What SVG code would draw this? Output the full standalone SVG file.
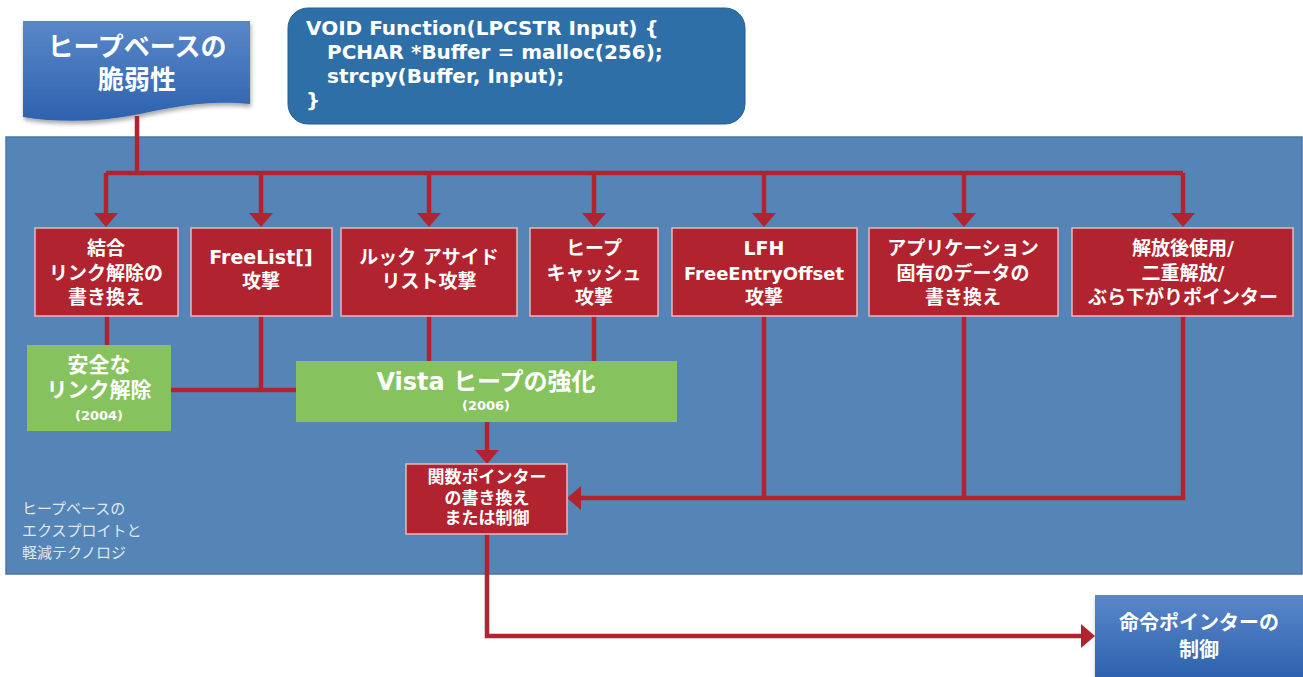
<svg xmlns="http://www.w3.org/2000/svg" width="1303" height="677" viewBox="0 0 1303 677">
<style>
.t{font-family:"DejaVu Sans","Noto Sans CJK JP",sans-serif;font-weight:bold;fill:#ffffff;text-anchor:middle}
.red{fill:#b1232e;stroke:#eab7ba;stroke-width:1.5}
.green{fill:#86c35f}
.r19{font-size:19px}
.g{font-size:21px}
.yr{font-size:13px}
.c{fill:none;stroke:#b1232e;stroke-width:4.5;stroke-linejoin:miter}
.code{font-family:"DejaVu Sans",sans-serif;font-weight:bold;fill:#ffffff;font-size:20px}
.note{font-family:"Noto Sans CJK JP",sans-serif;font-size:15px;fill:#dfe8f2}
</style>
<defs>
<linearGradient id="bg1" x1="0" y1="0" x2="0" y2="1">
<stop offset="0" stop-color="#5a87c9"/>
<stop offset="1" stop-color="#2d62ae"/>
</linearGradient>
<filter id="sh" x="-10%" y="-10%" width="120%" height="130%">
<feDropShadow dx="1" dy="3" stdDeviation="2" flood-color="#000000" flood-opacity="0.35"/>
</filter>
<marker id="ah" markerUnits="userSpaceOnUse" markerWidth="16" markerHeight="26" refX="0" refY="12" orient="auto">
<path d="M0,0 L14,12 L0,24 Z" fill="#b1232e"/>
</marker>
</defs>

<g id="panel">
<rect x="6" y="137" width="1296" height="437" fill="#5585b6" stroke="#4a76a5" stroke-width="1.5"/>
<text class="note" x="22" y="514">ヒープベースの</text>
<text class="note" x="22" y="536">エクスプロイトと</text>
<text class="note" x="22" y="558">軽減テクノロジ</text>
</g>

<g id="title">
<path d="M23,21 H250 V104 C205,100 175,107 140,114 C100,122 60,123 23,117 Z" fill="url(#bg1)" filter="url(#sh)"/>
<text class="t" x="137" y="56" font-size="26">ヒープベースの</text>
<text class="t" x="137" y="89" font-size="26">脆弱性</text>
</g>

<g id="code">
<rect x="288" y="8" width="457" height="116" rx="20" fill="#2e6fa8" stroke="#245f93" stroke-width="1"/>
<text class="code" x="306" y="35">VOID Function(LPCSTR Input) {</text>
<text class="code" x="327" y="59">PCHAR *Buffer = malloc(256);</text>
<text class="code" x="327" y="83">strcpy(Buffer, Input);</text>
<text class="code" x="306" y="107">}</text>
</g>

<g id="connectors">
<path class="c" d="M137,116 V173"/>
<path class="c" d="M106,173 H1183"/>
<path class="c" d="M106,173 V213" marker-end="url(#ah)"/>
<path class="c" d="M261,173 V213" marker-end="url(#ah)"/>
<path class="c" d="M429,173 V213" marker-end="url(#ah)"/>
<path class="c" d="M594,173 V213" marker-end="url(#ah)"/>
<path class="c" d="M764,173 V213" marker-end="url(#ah)"/>
<path class="c" d="M964,173 V213" marker-end="url(#ah)"/>
<path class="c" d="M1183,173 V213" marker-end="url(#ah)"/>
<path class="c" d="M107,316 V345"/>
<path class="c" d="M261,316 V390"/>
<path class="c" d="M171,390 H296"/>
<path class="c" d="M429,316 V361"/>
<path class="c" d="M594,316 V361"/>
<path class="c" d="M487,422 V450" marker-end="url(#ah)"/>
<path class="c" d="M764,316 V498"/>
<path class="c" d="M964,316 V498"/>
<path class="c" d="M1183,316 V498 H581" marker-end="url(#ah)"/>
<path class="c" d="M487,534 V636 H1081" marker-end="url(#ah)"/>
</g>

<g id="n1">
<rect class="red" x="35" y="228" width="143" height="88"/>
<text class="t r19" x="106" y="255">結合</text>
<text class="t r19" x="106" y="280">リンク解除の</text>
<text class="t r19" x="106" y="304">書き換え</text>
</g>
<g id="n2">
<rect class="red" x="191" y="228" width="141" height="88"/>
<text class="t r19" x="261" y="264">FreeList[]</text>
<text class="t r19" x="261" y="288">攻撃</text>
</g>
<g id="n3">
<rect class="red" x="341" y="228" width="176" height="88"/>
<text class="t r19" x="429" y="264">ルック アサイド</text>
<text class="t r19" x="429" y="288">リスト攻撃</text>
</g>
<g id="n4">
<rect class="red" x="530" y="228" width="128" height="88"/>
<text class="t r19" x="594" y="255">ヒープ</text>
<text class="t r19" x="594" y="280">キャッシュ</text>
<text class="t r19" x="594" y="304">攻撃</text>
</g>
<g id="n5">
<rect class="red" x="672" y="228" width="185" height="88"/>
<text class="t r19" x="764" y="255">LFH</text>
<text class="t" x="764" y="280" font-size="18">FreeEntryOffset</text>
<text class="t r19" x="764" y="304">攻撃</text>
</g>
<g id="n6">
<rect class="red" x="869" y="228" width="189" height="88"/>
<text class="t r19" x="963" y="255">アプリケーション</text>
<text class="t r19" x="963" y="280">固有のデータの</text>
<text class="t r19" x="963" y="304">書き換え</text>
</g>
<g id="n7">
<rect class="red" x="1072" y="228" width="221" height="88"/>
<text class="t r19" x="1183" y="255">解放後使用/</text>
<text class="t r19" x="1183" y="280">二重解放/</text>
<text class="t r19" x="1183" y="304">ぶら下がりポインター</text>
</g>

<g id="safe-unlink">
<rect class="green" x="27" y="345" width="144" height="86"/>
<text class="t g" x="99" y="372">安全な</text>
<text class="t g" x="99" y="397">リンク解除</text>
<text class="t yr" x="99" y="420">(2004)</text>
</g>
<g id="vista">
<rect class="green" x="296" y="361" width="381" height="61"/>
<text class="t" x="486" y="390" font-size="24">Vista ヒープの強化</text>
<text class="t yr" x="486" y="410">(2006)</text>
</g>

<g id="funcptr">
<rect class="red" x="406" y="464" width="161" height="70"/>
<text class="t" x="487" y="483" font-size="17">関数ポインター</text>
<text class="t" x="487" y="504" font-size="17">の書き換え</text>
<text class="t" x="487" y="524" font-size="17">または制御</text>
</g>

<g id="ip">
<rect x="1095" y="595" width="208" height="82" fill="url(#bg1)" filter="url(#sh)"/>
<text class="t" x="1199" y="630" font-size="20">命令ポインターの</text>
<text class="t" x="1199" y="657" font-size="20">制御</text>
</g>
</svg>
